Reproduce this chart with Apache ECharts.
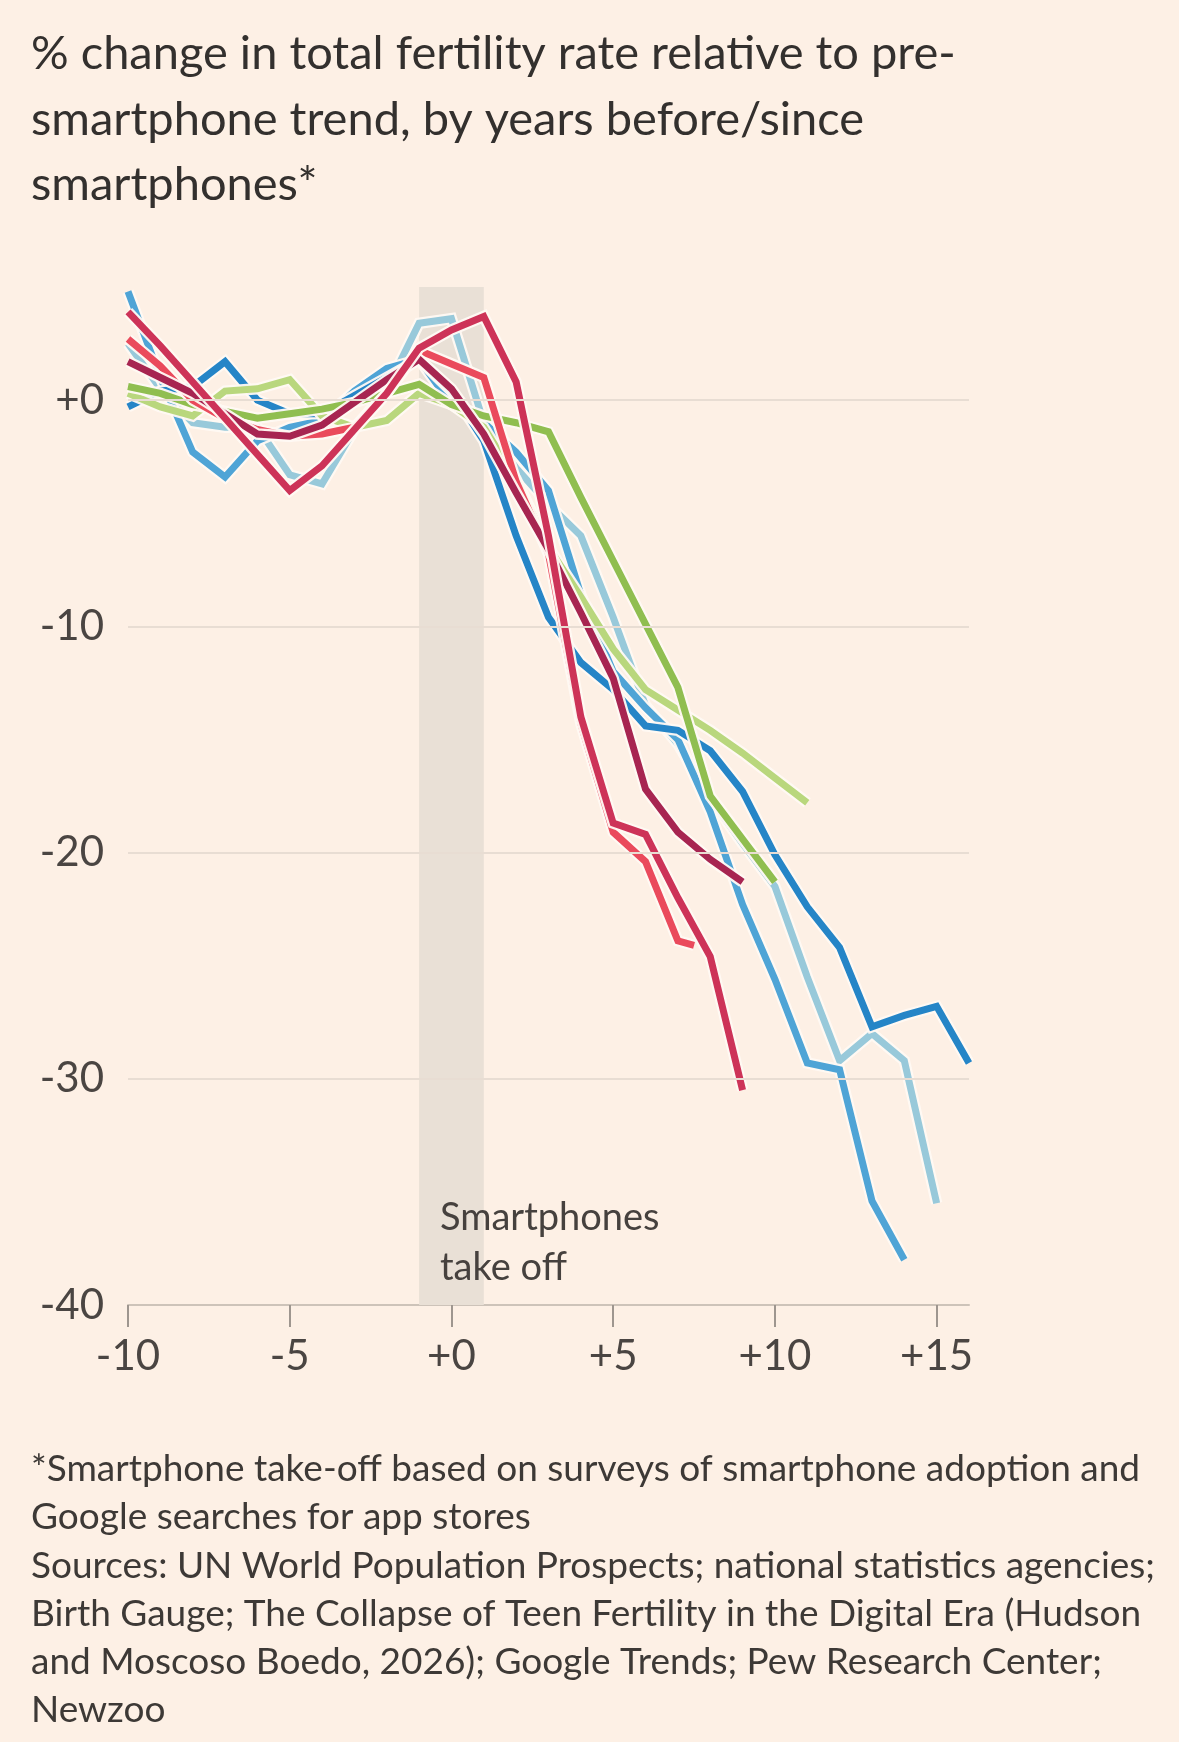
<!DOCTYPE html>
<html>
<head>
<meta charset="utf-8">
<title>TFR vs smartphone trend</title>
<script src="https://cdn.jsdelivr.net/npm/echarts@6/dist/echarts.min.js"></script>
<style>
    html, body { margin: 0; padding: 0; background: #fdf0e5; }
    #chart { width: 1179px; height: 1742px; }
</style>
</head>
<body>
<div id="chart"></div>
<script>
/* 年份（距智能手机普及的年数） */
const years = [-10, -9, -8, -7, -6, -5, -4, -3, -2, -1, 0, 1, 2, 3, 4, 5, 6, 7, 8, 9, 10, 11, 12, 13, 14, 15, 16];

/* 红线最后一点是半年 */
const brightRedYears = [-10, -9, -8, -7, -6, -5, -4, -3, -2, -1, 0, 1, 2, 3, 4, 5, 6, 7, 7.5];

/* 各条线的数值，从 -10 开始 */
const lightBlue  = [2.5, 0.5, -1.0, -1.2, -1.2, -3.3, -3.7, -1.3, 0.5, 3.4, 3.6, -1.0, -3.0, -4.6, -6.0, -9.6, -13.5, -15.2, -17.6, -19.6, -21.5, -25.5, -29.2, -28.0, -29.2, -35.5];
const midBlue    = [4.8, 1.0, -2.3, -3.4, -1.8, -1.2, -0.9, 0.4, 1.4, 1.8, -0.2, -1.0, -2.3, -4.0, -8.6, -12.0, -13.6, -15.0, -18.2, -22.3, -25.6, -29.3, -29.6, -35.4, -38.0];
const darkBlue   = [-0.3, 0.4, 0.6, 1.7, 0.0, -0.6, -0.6, 0.2, 1.0, 1.8, 0.4, -1.8, -6.0, -9.6, -11.6, -12.8, -14.4, -14.6, -15.5, -17.3, -20.1, -22.4, -24.2, -27.7, -27.2, -26.8, -29.3];
const lightGreen = [0.3, -0.3, -0.7, 0.4, 0.5, 0.9, -0.7, -1.2, -0.9, 0.3, -0.2, -1.2, -3.5, -6.5, -8.7, -11.0, -12.8, -13.7, -14.6, -15.6, -16.7, -17.8];
const green      = [0.6, 0.3, -0.2, -0.5, -0.8, -0.6, -0.4, -0.1, 0.3, 0.7, -0.2, -0.7, -1.0, -1.4, -4.3, -7.1, -9.9, -12.7, -17.5, -19.4, -21.3];
const brightRed  = [2.7, 1.5, 0.0, -0.8, -1.3, -1.6, -1.5, -1.2, 0.3, 2.2, 1.6, 1.0, -3.6, -6.8, -14.3, -19.1, -20.4, -23.9, -24.1];
const maroon     = [1.7, 1.0, 0.3, -0.6, -1.5, -1.6, -1.1, -0.1, 0.9, 1.8, 0.5, -1.5, -4.1, -6.6, -9.4, -12.3, -17.2, -19.1, -20.3, -21.3];
const crimson    = [3.9, 2.4, 0.8, -0.8, -2.4, -4.0, -2.9, -1.3, 0.3, 2.3, 3.1, 3.7, 0.8, -6.0, -14.0, -18.7, -19.2, -22.0, -24.6, -30.5];

/* 刻度 */
const xTicks = [-10, -5, 0, 5, 10, 15];
const yTicks = [-40, -30, -20, -10, 0];
const yGridLines = [0, -10, -20, -30];

/* 智能手机普及阴影区 */
const takeOffBand = [-1, 1];

/* 标题和脚注 */
const titleLines = [
    "% change in total fertility rate relative to pre-",
    "smartphone trend, by years before/since",
    "smartphones*"
];

const noteLines = [
    "*Smartphone take-off based on surveys of smartphone adoption and",
    "Google searches for app stores",
    "Sources: UN World Population Prospects; national statistics agencies;",
    "Birth Gauge; The Collapse of Teen Fertility in the Digital Era (Hudson",
    "and Moscoso Boedo, 2026); Google Trends; Pew Research Center;",
    "Newzoo"
];

/* 画线顺序：下面的先画 */
const lines = [
    { name: "lightBlue",  values: lightBlue,  xs: years,          color: "#98c9da" },
    { name: "midBlue",    values: midBlue,    xs: years,          color: "#4fa4d6" },
    { name: "darkBlue",   values: darkBlue,   xs: years,          color: "#2585c7" },
    { name: "lightGreen", values: lightGreen, xs: years,          color: "#b9d77d" },
    { name: "green",      values: green,      xs: years,          color: "#90be50" },
    { name: "brightRed",  values: brightRed,  xs: brightRedYears, color: "#ea4a5c" },
    { name: "maroon",     values: maroon,     xs: years,          color: "#a72551" },
    { name: "crimson",    values: crimson,    xs: years,          color: "#cd3358" }
];

const font = "Lato, 'Open Sans', sans-serif";

const chart = echarts.init(document.getElementById("chart"));

const series = [];

/* 网格线 */
series.push({
    type: "line",
    data: [],
    z: 1,
    silent: true,
    markLine: {
        silent: true,
        symbol: "none",
        label: { show: false },
        lineStyle: { color: "#e8ddd3", width: 2, type: "solid" },
        data: yGridLines.map(v => ({ yAxis: v }))
    }
});

/* 阴影区 */
series.push({
    type: "line",
    data: [],
    z: 2,
    silent: true,
    markArea: {
        silent: true,
        itemStyle: { color: "#e9e0d6" },
        data: [[{ xAxis: takeOffBand[0] }, { xAxis: takeOffBand[1] }]]
    }
});

/* 每条线下面垫一条浅色描边 */
lines.forEach(line => {

    const pts = line.values.map((v, i) => [line.xs[i], v]);

    series.push({
        type: "line",
        name: line.name + "-halo",
        data: pts,
        z: 3,
        showSymbol: false,
        silent: true,
        lineStyle: { color: "rgba(255,249,243,0.95)", width: 11.5, join: "miter" }
    });

    series.push({
        type: "line",
        name: line.name,
        data: pts,
        z: 3,
        showSymbol: false,
        silent: true,
        lineStyle: { color: line.color, width: 7, join: "miter" }
    });
});

/* 文字 */
const graphics = [];

titleLines.forEach((t, i) => {
    graphics.push({
        type: "text",
        x: 31,
        y: 54 + i * 65.5,
        style: {
            text: t,
            fill: "#33302e",
            font: "47px " + font,
            verticalAlign: "middle"
        }
    });
});

noteLines.forEach((t, i) => {
    graphics.push({
        type: "text",
        x: 31,
        y: 1469 + i * 48.3,
        style: {
            text: t,
            fill: "#3d3936",
            font: "37px " + font,
            verticalAlign: "middle"
        }
    });
});

graphics.push({
    type: "text",
    x: 440,
    y: 1218,
    z: 10,
    style: { text: "Smartphones", fill: "#46413e", font: "38px " + font, verticalAlign: "middle" }
});

graphics.push({
    type: "text",
    x: 440,
    y: 1268,
    z: 10,
    style: { text: "take off", fill: "#46413e", font: "38px " + font, verticalAlign: "middle" }
});

function signed(v){
    return v >= 0 ? "+" + v : String(v);
}

chart.setOption({
    backgroundColor: "#fdf0e5",
    animation: false,
    grid: { left: 128, right: 210, top: 287, bottom: 437 },
    xAxis: {
        type: "value",
        min: -10,
        max: 16,
        interval: 5,
        splitLine: { show: false },
        axisLine: { onZero: false, lineStyle: { color: "#cdc3b9", width: 2 } },
        axisTick: {
            customValues: xTicks,
            length: 22,
            lineStyle: { color: "#9e968f", width: 2 }
        },
        axisLabel: {
            customValues: xTicks,
            margin: 30,
            color: "#4a4542",
            fontSize: 42,
            fontFamily: font,
            formatter: signed
        }
    },
    yAxis: {
        type: "value",
        min: -40,
        max: 5,
        interval: 10,
        splitLine: { show: false },
        axisLine: { show: false },
        axisTick: { show: false },
        axisLabel: {
            customValues: yTicks,
            margin: 24,
            color: "#4a4542",
            fontSize: 42,
            fontFamily: font,
            formatter: signed
        }
    },
    graphic: graphics,
    series: series
});
</script>
</body>
</html>
